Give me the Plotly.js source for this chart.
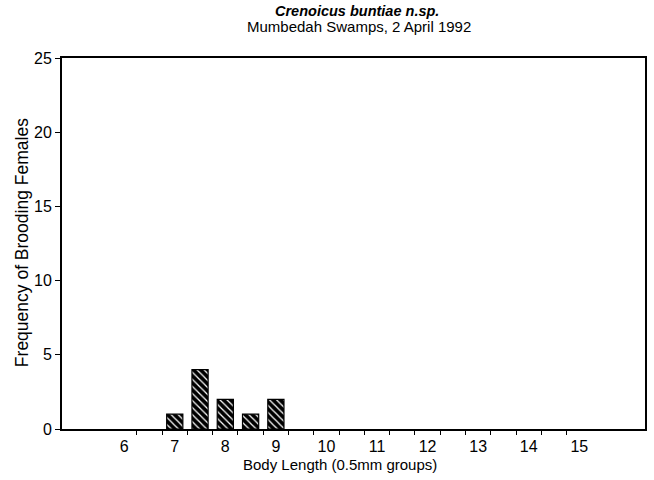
<!DOCTYPE html>
<html><head><meta charset="utf-8">
<script src="https://cdn.plot.ly/plotly-3.0.1.min.js"></script>
<style>body{margin:0;background:#fff}#c{width:654px;height:480px}</style>
</head><body><div id="c"></div>
<script>
const bodyLength = [7, 7.5, 8, 8.5, 9];
const frequency = [1, 4, 2, 1, 2];
const xTickVals = [6, 7, 8, 9, 10, 11, 12, 13, 14, 15];
const xTickText = ['6', '7', '8', '9', '10', '11', '12', '13', '14', '15'];
const yTickVals = [0, 5, 10, 15, 20, 25];
const titleLine1 = 'Crenoicus buntiae n.sp.';
const titleLine2 = 'Mumbedah Swamps, 2 April 1992';
const xTitle = 'Body Length (0.5mm groups)';
const yTitle = 'Frequency of Brooding Females';

const binEdges = xTickVals.slice(0, -1).flatMap(v => [v + 0.25, v + 0.75]);
const font = 'Liberation Sans, Arial, sans-serif';
Plotly.newPlot('c', [{
  type: 'bar', x: bodyLength, y: frequency, width: 0.32,
  marker: {color: '#000', line: {color: '#000', width: 1.2},
    pattern: {shape: '\\', bgcolor: '#000', fgcolor: '#fff', size: 5, solidity: 0.25}},
  hoverinfo: 'none'
}], {
  width: 654, height: 480,
  margin: {l: 62, r: 9, t: 58, b: 51},
  paper_bgcolor: '#fff', plot_bgcolor: '#fff',
  font: {family: font, color: '#000', size: 16},
  showlegend: false,
  xaxis: {range: [4.77, 16.3], tickvals: xTickVals, ticktext: xTickText, ticks: '',
    showgrid: false, zeroline: false, showline: true, linecolor: '#000', linewidth: 2, mirror: true,
    minor: {ticks: 'outside', tickmode: 'array', tickvals: binEdges, ticklen: 4, tickcolor: '#000', tickwidth: 1, showgrid: false},
    tickfont: {size: 16}, ticklabelstandoff: 2},
  yaxis: {range: [0, 25], tickvals: yTickVals, ticks: 'outside', ticklen: 5, tickcolor: '#000',
    showgrid: false, zeroline: false, showline: true, linecolor: '#000', linewidth: 2, mirror: true,
    tickfont: {size: 16}, ticklabelstandoff: 0},
  annotations: [
    {text: '<b><i>' + titleLine1 + '</i></b>', xref: 'paper', yref: 'paper', x: 0.506, y: 1.1267,
      xanchor: 'center', yanchor: 'middle', showarrow: false, borderpad: 0, font: {size: 14.5}},
    {text: titleLine2, xref: 'paper', yref: 'paper', x: 0.509, y: 1.0836,
      xanchor: 'center', yanchor: 'middle', showarrow: false, borderpad: 0, font: {size: 15}},
    {text: xTitle, xref: 'paper', yref: 'paper', x: 0.477, y: -0.097,
      xanchor: 'center', yanchor: 'middle', showarrow: false, font: {size: 15}},
    {text: yTitle, xref: 'paper', yref: 'paper', x: -0.0686, y: 0.501, textangle: -90,
      xanchor: 'center', yanchor: 'middle', showarrow: false, font: {size: 17.5}}
  ]
}, {staticPlot: true});
</script></body></html>
